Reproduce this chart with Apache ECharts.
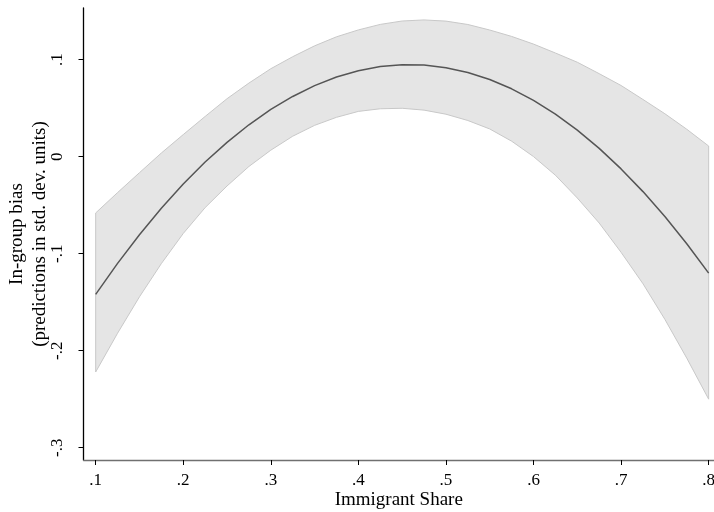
<!DOCTYPE html>
<html>
<head>
<meta charset="utf-8">
<script src="https://cdn.jsdelivr.net/npm/echarts@6/dist/echarts.min.js"></script>
<style>html,body{margin:0;padding:0;background:#fff}#c{width:714px;height:512px}</style>
</head>
<body>
<div id="c"></div>
<script>
var xs = [0.100,0.125,0.150,0.175,0.200,0.225,0.250,0.275,0.300,0.325,0.350,0.375,0.400,0.425,0.450,
          0.475,0.500,0.525,0.550,0.575,0.600,0.625,0.650,0.675,0.700,0.725,0.750,0.775,0.800];
var fit = [-0.142,-0.110,-0.0805,-0.0532,-0.0282,-0.0055,0.0148,0.0329,0.0487,0.0621,0.0733,0.0821,0.0887,0.0929,0.0949,
           0.0945,0.0918,0.0868,0.0796,0.0700,0.0581,0.0439,0.0274,0.0086,-0.0126,-0.0360,-0.0617,-0.0897,-0.120];
var upper = [-0.058,-0.037,-0.0165,0.0038,0.0228,0.0415,0.0598,0.0759,0.0907,0.1031,0.1143,0.1236,0.1307,0.1364,0.1399,
             0.1410,0.1398,0.1363,0.1306,0.1240,0.1161,0.1069,0.0974,0.0856,0.0734,0.0590,0.0443,0.0283,0.011];
var lower = [-0.222,-0.182,-0.1445,-0.1102,-0.0792,-0.0525,-0.0302,-0.0101,0.0067,0.0211,0.0323,0.0406,0.0467,0.0494,0.0499,
             0.0480,0.0438,0.0373,0.0286,0.0160,0.0001,-0.0191,-0.0426,-0.0684,-0.0986,-0.131,-0.1677,-0.2077,-0.250];
var xTicks = [0.1,0.2,0.3,0.4,0.5,0.6,0.7,0.8];
var yTicks = [-0.3,-0.2,-0.1,0,0.1];

function fmt(v){
  var s = (Math.round(v*10)/10).toString();
  if (s === '0') return '0';
  return s.replace(/^(-?)0\./, '$1.');
}

var fitData = xs.map(function(x,i){return [x, fit[i]];});
var bandData = xs.map(function(x,i){return [x, upper[i], lower[i]];});

var font = 'Liberation Serif, Times New Roman, serif';
var chart = echarts.init(document.getElementById('c'), null, {renderer:'canvas'});
chart.setOption({
  animation:false,
  grid:{left:83.5, right:0, top:8, bottom:52, outerBoundsMode:'none', containLabel:false},
  xAxis:{
    type:'value', min:0.0861, max:0.8061, z:10,
    name:'Immigrant Share', nameLocation:'middle', nameGap:31, nameMoveOverlap:false,
    nameTextStyle:{fontFamily:font, fontSize:19, color:'#000'},
    axisLine:{show:true, onZero:false, lineStyle:{color:'#707070', width:1.3}},
    axisTick:{show:true, length:5, customValues:xTicks, lineStyle:{color:'#000'}},
    axisLabel:{customValues:xTicks, formatter:fmt, fontFamily:font, fontSize:17, color:'#000', margin:12},
    splitLine:{show:false}
  },
  yAxis:{
    type:'value', min:-0.3127, max:0.1533, z:10,
    name:'In-group bias\n(predictions in std. dev. units)', nameLocation:'middle', nameGap:32, nameMoveOverlap:false,
    nameTextStyle:{fontFamily:font, fontSize:19, color:'#000', lineHeight:23},
    axisLine:{show:true, onZero:false, lineStyle:{color:'#000', width:1.3}},
    axisTick:{show:true, length:5, customValues:yTicks, lineStyle:{color:'#000'}},
    axisLabel:{customValues:yTicks, formatter:fmt, fontFamily:font, fontSize:17, color:'#000', rotate:90, margin:17},
    splitLine:{show:false}
  },
  series:[
    {type:'custom', data:bandData, encode:{x:0, y:[1,2]}, z:1,
     renderItem:function(params, api){
       if (params.dataIndex !== 0) return null;
       var pts = [];
       for (var i = 0; i < bandData.length; i++) pts.push(api.coord([bandData[i][0], bandData[i][1]]));
       for (var j = bandData.length - 1; j >= 0; j--) pts.push(api.coord([bandData[j][0], bandData[j][2]]));
       return {type:'polygon', shape:{points:pts}, style:{fill:'#e5e5e5', stroke:'#c8c8c8', lineWidth:1}};
     }},
    {type:'line', data:fitData, smooth:false, symbol:'none', lineStyle:{color:'#555555', width:1.5}, z:4}
  ]
});
</script>
</body>
</html>
